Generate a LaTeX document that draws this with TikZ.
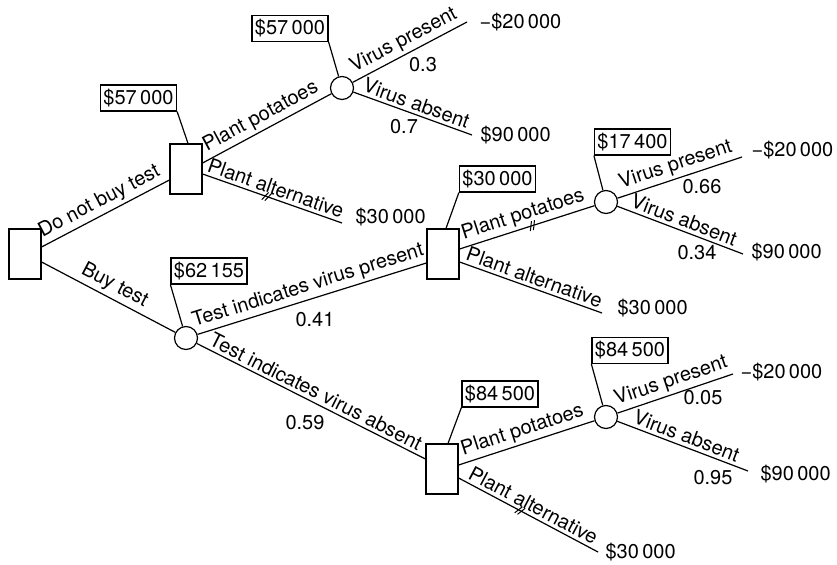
\documentclass[tikz,border=0pt]{standalone}
\usepackage{fontspec}
\setmainfont{TeX Gyre Heros}
\usepackage{tikz}
\usetikzlibrary{positioning, decorations.markings}

\tikzset{
  decision/.style={draw, minimum width=32bp, minimum height=50bp, inner sep=0pt},
  chance/.style={draw, circle, minimum size=23bp, inner sep=0pt},
  valuebox/.style={draw, inner xsep=3bp, inner ysep=4bp},
  branch/.style={sloped, above, inner sep=3bp},
  blocked/.style={postaction={decorate, decoration={markings,
      mark=at position #1 with {\draw[line width=1bp] (-3.6bp,-4.5bp) -- (.4bp,4.5bp)
                                                      (-.4bp,-4.5bp) -- (3.6bp,4.5bp);}}}},
  prob/.style={inner sep=1bp},
  payoff/.style={inner sep=0pt},
}

\begin{document}
\begin{tikzpicture}[x=1bp, y=-1bp, line width=1.2bp, font=\fontsize{20bp}{24bp}\selectfont]
  \useasboundingbox (0,0) rectangle (837,565);
  % Decision and chance nodes
  \node[decision] (root)  at (25,254)  {};
  \node[decision] (dnot)  at (186,169) {};
  \node[chance]   (ctest) at (186,338) {};
  \node[chance]   (cnot)  at (342,88)  {};
  \node[decision] (dpos)  at (443,254) {};
  \node[chance]   (cpos)  at (606,202) {};
  \node[decision] (dneg)  at (442,469) {};
  \node[chance]   (cneg)  at (606,417) {};
  % Branch ends
  \coordinate (e1p)   at (467,22);
  \coordinate (e1a)   at (472,135);
  \coordinate (e1alt) at (342,223);
  \coordinate (e2p)   at (742,157);
  \coordinate (e2a)   at (743,254);
  \coordinate (e2alt) at (602,313);
  \coordinate (e3p)   at (733,374);
  \coordinate (e3a)   at (748,471);
  \coordinate (e3alt) at (598,552);
  % First decision
  \draw ([yshift=7bp]root.east) -- node[branch] {Do not buy test} ([yshift=-11bp]dnot.west);
  \draw ([yshift=-8bp]root.east) -- node[branch] {Buy test} (ctest);
  % No test
  \draw ([yshift=6bp]dnot.east) -- node[branch, pos=.5] {Plant potatoes} (cnot);
  \draw[blocked=.46] ([yshift=-5bp]dnot.east) -- node[branch] {Plant alternative} (e1alt);
  \draw (cnot) -- node[branch] {Virus present} (e1p);
  \draw (cnot) -- node[branch] {Virus absent} (e1a);
  % Test result
  \draw (ctest) -- node[branch] {Test indicates virus present} ([yshift=-9bp]dpos.west);
  \draw (ctest) -- node[branch] {Test indicates virus absent} ([yshift=10bp]dneg.west);
  % Virus present result
  \draw[blocked=.54] ([yshift=5bp]dpos.east) -- node[branch] {Plant potatoes} (cpos);
  \draw ([yshift=-8bp]dpos.east) -- node[branch] {Plant alternative} (e2alt);
  \draw (cpos) -- node[branch] {Virus present} (e2p);
  \draw (cpos) -- node[branch] {Virus absent} (e2a);
  % Virus absent result
  \draw ([yshift=4bp]dneg.east) -- node[branch] {Plant potatoes} (cneg);
  \draw[blocked=.44] ([yshift=-9bp]dneg.east) -- node[branch] {Plant alternative} (e3alt);
  \draw (cneg) -- node[branch] {Virus present} (e3p);
  \draw (cneg) -- node[branch] {Virus absent} (e3a);
  % Expected values
  \node[valuebox] (vnot)  at (138.5,98)  {\$57\,000};
  \draw (vnot.south east) -- ([xshift=2bp]dnot.north);
  \node[valuebox] (vnotc) at (290,28.5)  {\$57\,000};
  \draw (vnotc.south east) -- (cnot);
  \node[valuebox] (vtest) at (209,271)   {\$62\,155};
  \draw (vtest.south west) -- (ctest);
  \node[valuebox] (vpos)  at (497.5,179) {\$30\,000};
  \draw (vpos.south west) -- ([xshift=3bp]dpos.north);
  \node[valuebox] (vposc) at (632.5,142) {\$17\,400};
  \draw (vposc.south west) -- (cpos);
  \node[valuebox] (vneg)  at (500,394)   {\$84\,500};
  \draw (vneg.south west) -- ([xshift=6bp]dneg.north);
  \node[valuebox] (vnegc) at (630,350.5) {\$84\,500};
  \draw (vnegc.south west) -- (cneg);
  % Probabilities
  \node[prob] (pnot1)  at (423,65)  {0.3};
  \node[prob] (pnot2)  at (404,127) {0.7};
  \node[prob] (ptest1) at (315,320) {0.41};
  \node[prob] (ptest2) at (305,423) {0.59};
  \node[prob] (ppos1)  at (702,187) {0.66};
  \node[prob] (ppos2)  at (697,253) {0.34};
  \node[prob] (pneg1)  at (703,398) {0.05};
  \node[prob] (pneg2)  at (713,478) {0.95};
  % Payoffs
  \node[payoff, right=12bp of e1p]               (t1p)   {−\$20\,000};
  \node[payoff, right=8bp of e1a]                (t1a)   {\$90\,000};
  \node[payoff, right=13bp of e1alt, yshift=6bp] (t1alt) {\$30\,000};
  \node[payoff, right=9bp of e2p, yshift=7bp]    (t2p)   {−\$20\,000};
  \node[payoff, right=8bp of e2a, yshift=2bp]    (t2a)   {\$90\,000};
  \node[payoff, right=15bp of e2alt, yshift=5bp] (t2alt) {\$30\,000};
  \node[payoff, right=7bp of e3p, yshift=2bp]    (t3p)   {−\$20\,000};
  \node[payoff, right=12bp of e3a, yshift=-3bp]  (t3a)   {\$90\,000};
  \node[payoff, right=7bp of e3alt]              (t3alt) {\$30\,000};
\end{tikzpicture}
\end{document}
